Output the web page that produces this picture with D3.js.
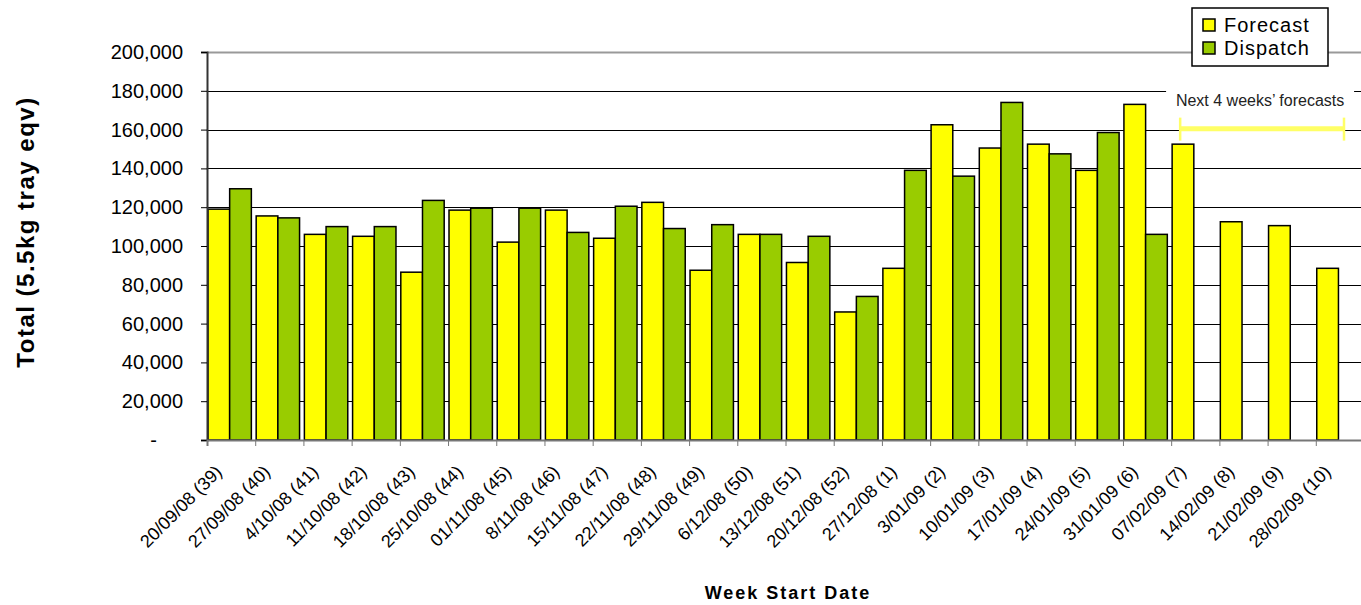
<!DOCTYPE html>
<html>
<head>
<meta charset="utf-8">
<script src="https://cdn.jsdelivr.net/npm/d3@7"></script>
<style>
  body { margin: 0; background: #fff; }
  text { font-family: Arial, "Liberation Sans", sans-serif; }
</style>
</head>
<body>
<div id="chart"></div>
<script>
// week labels (week start date + week number)
const weeks = ["20/09/08 (39)", "27/09/08 (40)", "4/10/08 (41)", "11/10/08 (42)", "18/10/08 (43)",
  "25/10/08 (44)", "01/11/08 (45)", "8/11/08 (46)", "15/11/08 (47)", "22/11/08 (48)",
  "29/11/08 (49)", "6/12/08 (50)", "13/12/08 (51)", "20/12/08 (52)", "27/12/08 (1)",
  "3/01/09 (2)", "10/01/09 (3)", "17/01/09 (4)", "24/01/09 (5)", "31/01/09 (6)",
  "07/02/09 (7)", "14/02/09 (8)", "21/02/09 (9)", "28/02/09 (10)"];

const forecast = [119000, 115500, 106000, 105000, 86500, 118500, 102000, 118500, 104000, 122500,
  87500, 106000, 91500, 66000, 88500, 162500, 150500, 152500, 139000, 173000,
  152500, 112500, 110500, 88500];

const dispatch = [129500, 114500, 110000, 110000, 123500, 119500, 119500, 107000, 120500, 109000,
  111000, 106000, 105000, 74000, 139000, 136000, 174000, 147500, 158500, 106000,
  null, null, null, null];

const yTicks = [0, 20000, 40000, 60000, 80000, 100000, 120000, 140000, 160000, 180000, 200000];

const seriesNames = ["Forecast", "Dispatch"];
const colors = {Forecast: "#FFFF00", Dispatch: "#99CC00"};

// nr of forecast-only weeks at the end
const futureWeeks = 4;

class BarChart {
  constructor(container) {
    this.container = container;
    this.width = 1157;
    this.height = 388;
    this.margin = {top: 52, right: 0, bottom: 165, left: 207};
  }

  draw() {
    const svg = d3.select(this.container).append("svg")
      .attr("width", 1361)
      .attr("height", 605);

    const g = svg.append("g")
      .attr("transform", `translate(${this.margin.left}, ${this.margin.top})`);

    const x0 = d3.scaleBand()
      .domain(weeks)
      .range([0, this.width])
      .paddingInner(0.1)
      .paddingOuter(0.05)
      .align(0.2);

    const x1 = d3.scaleBand()
      .domain(seriesNames)
      .range([0, x0.bandwidth()]);

    const y = d3.scaleLinear()
      .domain([0, 200000])
      .range([this.height, 0]);

    // gridlines
    g.append("g")
      .selectAll("line")
      .data(yTicks.filter(d => d > 0))
      .enter().append("line")
      .attr("x1", 0)
      .attr("x2", this.width)
      .attr("y1", d => Math.round(y(d)) + 0.5)
      .attr("y2", d => Math.round(y(d)) + 0.5)
      .attr("stroke", d => d === 200000 ? "#999" : "#000")
      .attr("stroke-width", d => d === 200000 ? 2 : 1);

    // bars
    const data = weeks.map((w, i) => ({week: w, Forecast: forecast[i], Dispatch: dispatch[i]}));

    const groups = g.append("g")
      .selectAll("g")
      .data(data)
      .enter().append("g")
      .attr("transform", d => `translate(${x0(d.week)}, 0)`);

    groups.selectAll("rect")
      .data(d => seriesNames.map(k => ({key: k, value: d[k]})).filter(e => e.value !== null))
      .enter().append("rect")
      .attr("x", d => x1(d.key))
      .attr("y", d => y(d.value))
      .attr("width", x1.bandwidth())
      .attr("height", d => this.height - y(d.value))
      .attr("fill", d => colors[d.key])
      .attr("stroke", "#000")
      .attr("stroke-width", 1.5);

    // y axis
    const yAxis = g.append("g")
      .call(d3.axisLeft(y)
        .tickValues(yTicks)
        .tickSize(6)
        .tickPadding(18)
        .tickFormat(d => d === 0 ? "-" : d3.format(",")(d)));
    yAxis.select(".domain").attr("stroke", "#333").attr("stroke-width", 2);
    yAxis.selectAll(".tick line").attr("stroke", "#000");
    yAxis.selectAll("text")
      .attr("font-size", 20)
      .attr("fill", "#000");
    yAxis.selectAll(".tick")
      .filter(d => d === 0)
      .select("text")
      .attr("x", -50);

    // x axis, ticks on category boundaries
    const xIdx = d3.scaleLinear().domain([0, weeks.length]).range([0, this.width]);
    const xAxis = g.append("g")
      .attr("transform", `translate(0, ${this.height})`)
      .call(d3.axisBottom(xIdx)
        .tickValues(d3.range(weeks.length + 1))
        .tickSize(6)
        .tickFormat(""));
    xAxis.select(".domain").attr("stroke", "#777").attr("stroke-width", 2);
    xAxis.selectAll(".tick line").attr("stroke", "#777");

    xAxis.selectAll(".week-label")
      .data(weeks)
      .enter().append("text")
      .attr("class", "week-label")
      .attr("transform", (d, i) => `translate(${xIdx(i + 0.5) - 8}, 33) rotate(-45)`)
      .attr("text-anchor", "end")
      .attr("font-size", 18)
      .attr("fill", "#000")
      .text(d => d);

    // axis titles
    svg.append("text")
      .attr("transform", `translate(34, 232) rotate(-90)`)
      .attr("text-anchor", "middle")
      .attr("font-size", 24)
      .attr("font-weight", "bold")
      .attr("letter-spacing", 1.5)
      .text("Total (5.5kg tray eqv)");

    svg.append("text")
      .attr("x", 788)
      .attr("y", 599)
      .attr("text-anchor", "middle")
      .attr("font-size", 18)
      .attr("font-weight", "bold")
      .attr("letter-spacing", 2)
      .text("Week Start Date");

    // next 4 weeks annotation
    const firstFuture = weeks.length - futureWeeks;
    const bx1 = xIdx(firstFuture) + 9;
    const bx2 = xIdx(weeks.length) - 20;
    const by = y(160500);
    const noteX = (bx1 + bx2) / 2 - 2;

    g.append("rect")
      .attr("x", noteX - 94)
      .attr("y", y(187000))
      .attr("width", 188)
      .attr("height", 26)
      .attr("fill", "#fff");
    g.append("text")
      .attr("x", noteX)
      .attr("y", y(172000))
      .attr("text-anchor", "middle")
      .attr("font-size", 16)
      .attr("fill", "#222")
      .text("Next 4 weeks\u2019 forecasts");

    const bracket = g.append("g")
      .attr("stroke", "#FFFF66")
      .attr("fill", "none");
    bracket.append("line")
      .attr("x1", bx1).attr("x2", bx2)
      .attr("y1", by).attr("y2", by)
      .attr("stroke-width", 5);
    bracket.selectAll(".end")
      .data([bx1, bx2])
      .enter().append("line")
      .attr("x1", d => d).attr("x2", d => d)
      .attr("y1", by - 11).attr("y2", by + 12)
      .attr("stroke-width", 2.5);

    // legend
    const legend = svg.append("g")
      .attr("transform", "translate(1192, 8)");
    legend.append("rect")
      .attr("width", 136)
      .attr("height", 58)
      .attr("fill", "#fff")
      .attr("stroke", "#000")
      .attr("stroke-width", 1.5);
    const items = legend.selectAll(".item")
      .data(seriesNames)
      .enter().append("g")
      .attr("class", "item")
      .attr("transform", (d, i) => `translate(0, ${i * 23})`);
    items.append("rect")
      .attr("x", 11)
      .attr("y", 11)
      .attr("width", 12)
      .attr("height", 12)
      .attr("fill", d => colors[d])
      .attr("stroke", "#000")
      .attr("stroke-width", 1.5);
    items.append("text")
      .attr("x", 32)
      .attr("y", 24)
      .attr("font-size", 20)
      .attr("letter-spacing", 1)
      .attr("fill", "#000")
      .text(d => d);
  }
}

const chart = new BarChart("#chart");
chart.draw();
</script>
</body>
</html>
